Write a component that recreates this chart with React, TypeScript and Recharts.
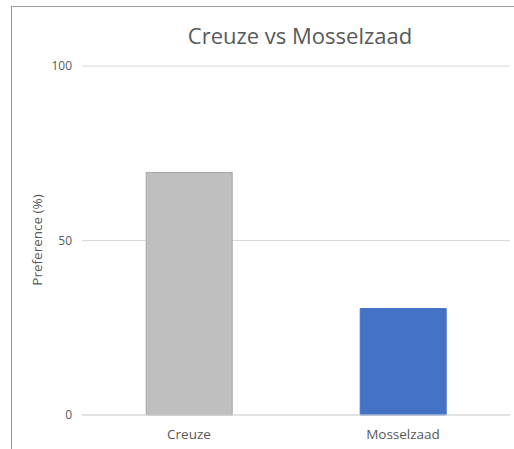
import React from 'react';
import { BarChart, Bar, XAxis, YAxis, CartesianGrid, Cell, Customized } from 'recharts';

const categories = ['Creuze', 'Mosselzaad'];
const preference = [69.5, 30.5];
const yTicks = [0, 50, 100];
const barFills = ['#BFBFBF', '#4472C4'];
const barStrokes = ['#A6A6A6', '#4472C4'];

const data = categories.map((c, i) => ({ name: c, value: preference[i] }));

const FONT = '"Open Sans", "Noto Sans", sans-serif';
const TEXT = '#595959';

const Overlay = () => (
  <g>
    <text x={300} y={44} textAnchor="middle" fontSize={22} fill={TEXT} fontFamily={FONT}>
      Creuze vs Mosselzaad
    </text>
    <text
      x={0}
      y={0}
      transform="translate(42,240) rotate(-90)"
      textAnchor="middle"
      fontSize={13.5}
      fill={TEXT}
      fontFamily={FONT}
    >
      Preference (%)
    </text>
  </g>
);

export default function App() {
  return (
    <div style={{ position: 'absolute', left: 0, top: 0, width: 514, height: 449, background: '#fff' }}>
      <div
        style={{
          position: 'absolute',
          left: 11,
          top: 6,
          width: 520,
          height: 460,
          borderLeft: '1px solid #9a9a9a',
          borderTop: '1px solid #9a9a9a',
        }}
      />
      <BarChart
        width={514}
        height={449}
        data={data}
        margin={{ top: 66, right: 4, bottom: 0, left: 0 }}
        barCategoryGap="30%"
        style={{ position: 'absolute', left: 0, top: 0 }}
      >
        <CartesianGrid vertical={false} stroke="#D9D9D9" strokeWidth={1} />
        <XAxis
          dataKey="name"
          height={34}
          axisLine={{ stroke: '#D9D9D9' }}
          tickLine={false}
          tickMargin={8}
          tick={{ fill: TEXT, fontSize: 13.5, fontFamily: FONT }}
        />
        <YAxis
          width={82}
          domain={[0, 100]}
          ticks={yTicks}
          axisLine={false}
          tickLine={false}
          tickMargin={4}
          tick={{ fill: TEXT, fontSize: 12, fontFamily: FONT }}
        />
        <Bar dataKey="value" isAnimationActive={false} strokeWidth={1}>
          {data.map((d, i) => (
            <Cell key={d.name} fill={barFills[i]} stroke={barStrokes[i]} />
          ))}
        </Bar>
        <Customized component={Overlay} />
      </BarChart>
    </div>
  );
}
